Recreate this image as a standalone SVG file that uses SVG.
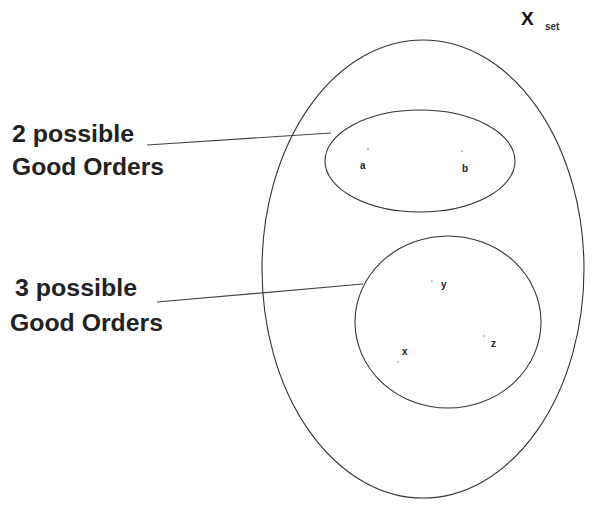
<svg xmlns="http://www.w3.org/2000/svg" width="599" height="506" viewBox="0 0 599 506">
<style>
.shape{fill:none;stroke:#333;stroke-width:1.1}
.conn{fill:none;stroke:#444;stroke-width:1.2}
.lbl{font-family:"Liberation Sans",Arial,sans-serif;font-weight:bold;font-size:23px;fill:#222}
.pt{font-family:"Liberation Sans",Arial,sans-serif;font-weight:bold;font-size:10px;fill:#222}
.dot{fill:#888}
</style>
<rect width="599" height="506" fill="#fff"/>
<g id="xset">
<ellipse class="shape" cx="423" cy="269" rx="161" ry="229"/>
<text x="521" y="25" font-family="Liberation Sans,Arial,sans-serif" font-weight="bold" font-size="19" fill="#111">X</text>
<text x="545" y="30" font-family="Liberation Sans,Arial,sans-serif" font-weight="bold" font-size="10" fill="#333">set</text>
</g>
<g id="set-ab">
<ellipse class="shape" cx="420" cy="161" rx="95" ry="51"/>
<circle class="dot" cx="368" cy="149" r="0.8"/>
<text class="pt" x="360" y="169">a</text>
<circle class="dot" cx="462" cy="151" r="0.8"/>
<text class="pt" x="462" y="172">b</text>
</g>
<g id="set-xyz">
<ellipse class="shape" cx="448" cy="322" rx="93" ry="86"/>
<circle class="dot" cx="432" cy="281" r="0.8"/>
<text class="pt" x="441" y="288">y</text>
<circle class="dot" cx="484" cy="336" r="0.8"/>
<text class="pt" x="491" y="347">z</text>
<circle class="dot" cx="398" cy="362" r="0.8"/>
<text class="pt" x="402" y="355">x</text>
</g>
<g id="label-2">
<text class="lbl" x="12" y="142" textLength="122" lengthAdjust="spacingAndGlyphs">2 possible</text>
<text class="lbl" x="12" y="175" textLength="152" lengthAdjust="spacingAndGlyphs">Good Orders</text>
</g>
<g id="label-3">
<text class="lbl" x="15" y="296" textLength="122" lengthAdjust="spacingAndGlyphs">3 possible</text>
<text class="lbl" x="10" y="331" textLength="153" lengthAdjust="spacingAndGlyphs">Good Orders</text>
</g>
<g id="connectors">
<line class="conn" x1="147" y1="145" x2="331" y2="133"/>
<line class="conn" x1="157" y1="302" x2="363" y2="284"/>
</g>
</svg>
